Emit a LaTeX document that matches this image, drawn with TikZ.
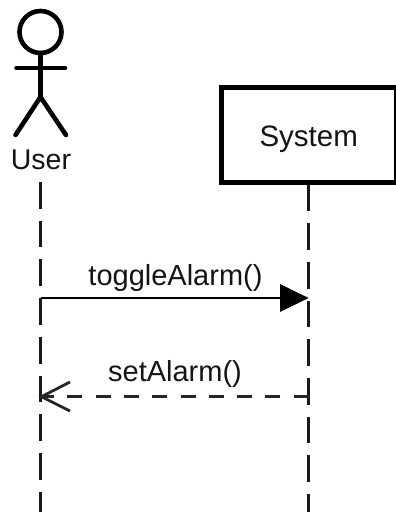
\documentclass[tikz,border=0pt]{standalone}
\usepackage{fontspec}
\setmainfont{Liberation Sans}
\usetikzlibrary{arrows.meta}
\tikzset{
  figure/.style={line width=4.6pt,line cap=round,draw=black},
  lifeline/.style={line width=2.8pt,draw=black!90,dash pattern=on 26.7pt off 12pt},
  msgtext/.style={inner sep=0pt,text=black!92,font=\fontsize{29pt}{32pt}\selectfont},
  sysbox/.style={draw=black,line width=5pt,fill=white,minimum width=175.4pt,minimum height=95pt,inner sep=0pt,font=\fontsize{29.5pt}{32pt}\selectfont,text=black!92},
  call/.style={line width=2.8pt,draw=black,-{Triangle[length=28.5pt,width=27pt,fill=black]}},
  reply/.style={line width=2.8pt,draw=black!85,dash pattern=on 15pt off 13.3pt},
  replyhead/.style={line width=2.8pt,draw=black!85},
}
\begin{document}
\begin{tikzpicture}[x=1pt,y=-1pt]
\useasboundingbox (0,0) rectangle (396,512);
\clip (0,0) rectangle (396,512);
% actor
\coordinate (head) at (40.5,32);
\coordinate (neck) at (40.5,53);
\coordinate (armL) at (16.5,68);
\coordinate (armR) at (65,68);
\coordinate (hip) at (40.5,97);
\coordinate (legL) at (15.5,135);
\coordinate (legR) at (66,135);
\draw[figure] (head) circle[radius=21];
\draw[figure] (neck) -- (hip);
\draw[figure] (armL) -- (armR);
\draw[figure,line join=miter] (legL) -- (hip) -- (legR);
\node[msgtext,font=\fontsize{28.5pt}{32pt}\selectfont] (user) at (41,160) {User};
% system
\node[sysbox] (sys) at (308.7,134.5) {\raisebox{-12pt}[0pt][0pt]{System}};
% lifelines
\coordinate (userTop) at (40.5,182);
\coordinate (userEnd) at (40.5,512);
\coordinate (sysEnd) at (308.7,512);
\draw[lifeline] (userTop) -- (userEnd);
\draw[lifeline] (sys.south) -- (sysEnd);
% messages
\coordinate (m1a) at (40.5,298);
\coordinate (m1b) at (308.7,298);
\coordinate (m2a) at (308.7,396.7);
\coordinate (m2b) at (41.5,396.7);
\coordinate (h2a) at (70,382);
\coordinate (h2b) at (70,411);
\draw[call] (m1a) -- (m1b);
\draw[reply] (m2a) -- (m2b);
\draw[replyhead] (h2a) -- (m2b) -- (h2b);
\node[msgtext] (lab1) at (175.5,277.5) {toggleAlarm()};
\node[msgtext] (lab2) at (175,373.5) {setAlarm()};
\end{tikzpicture}
\end{document}
